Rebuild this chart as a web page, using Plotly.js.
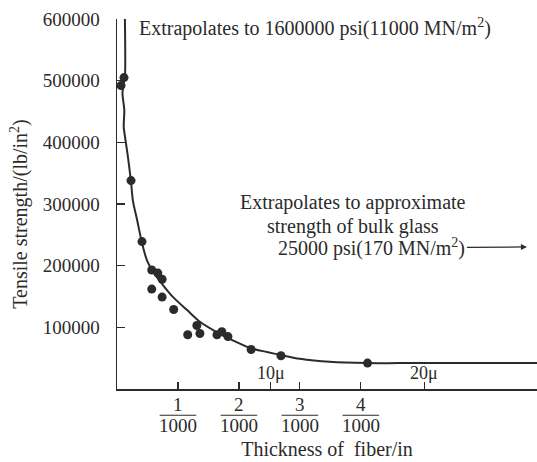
<!DOCTYPE html>
<html>
<head>
<meta charset="utf-8">
<script src="https://cdn.plot.ly/plotly-3.0.1.min.js"></script>
<style>html,body{margin:0;padding:0;background:#fff;}#chart{width:537px;height:462px;}</style>
</head>
<body>
<div id="chart"></div>
<script>
// Measured points: fiber thickness (in) vs tensile strength (lb/in^2)
var pointThickness = [0.000115, 0.000066, 0.00023, 0.00041, 0.00057, 0.00067, 0.00074, 0.00057, 0.00074, 0.00093, 0.00116, 0.00131, 0.00136, 0.00164, 0.00172, 0.00182, 0.00220, 0.00269, 0.00411];
var pointStrength  = [505000, 492000, 338000, 239000, 193000, 188000, 178000, 162000, 149000, 129000, 88000, 103000, 90000, 88000, 93000, 85000, 64000, 54000, 42000];

// Fitted curve
var curveThickness = [0.00013, 0.00013, 0.000115, 0.00009, 0.00012, 0.00011, 0.00013, 0.00018, 0.00023, 0.00026, 0.00033, 0.00041, 0.00049, 0.00059, 0.00075, 0.00092, 0.00115, 0.00136, 0.00164, 0.00190, 0.00220, 0.00246, 0.00269, 0.00300, 0.00349, 0.00411, 0.00464, 0.00689];
var curveStrength  = [600000, 505000, 498000, 480000, 452000, 425000, 410000, 376000, 336000, 306000, 274000, 237000, 209000, 190000, 169000, 149000, 128000, 109000, 92000, 79000, 66000, 60000, 55000, 49000, 44000, 42000, 42000, 42000];

var yTickVals = [100000, 200000, 300000, 400000, 500000, 600000];
var yTickText = ['100000', '200000', '300000', '400000', '500000', '600000'];
var xFracVals = [0.001, 0.002, 0.003, 0.004];
var xFracNum = ['1', '2', '3', '4'];
var xFracDen = '1000';
var micronVals = [0.00252, 0.00504];
var micronText = ['10\u03bc', '20\u03bc'];

var ink = '#2b2b2b';
var serif = '"Liberation Serif", "Times New Roman", serif';

var traces = [
  {x: curveThickness, y: curveStrength, mode: 'lines', type: 'scatter',
   line: {color: ink, width: 2, shape: 'spline', smoothing: 0.8}, hoverinfo: 'skip', showlegend: false},
  {x: pointThickness, y: pointStrength, mode: 'markers', type: 'scatter',
   marker: {color: ink, size: 9}, showlegend: false}
];

var annotations = [];
var shapes = [];
for (var i = 0; i < xFracVals.length; i++) {
  annotations.push({x: xFracVals[i], xref: 'x', y: -0.042, yref: 'paper', text: xFracNum[i], showarrow: false,
    xanchor: 'center', yanchor: 'middle', font: {family: serif, size: 19, color: ink}});
  annotations.push({x: xFracVals[i], xref: 'x', y: -0.098, yref: 'paper', text: xFracDen, showarrow: false,
    xanchor: 'center', yanchor: 'middle', font: {family: serif, size: 19, color: ink}});
  shapes.push({type: 'line', xref: 'x', yref: 'paper', x0: xFracVals[i] - 0.0003, x1: xFracVals[i] + 0.0003,
    y0: -0.071, y1: -0.071, line: {color: ink, width: 1.2}});
}
for (var j = 0; j < micronVals.length; j++) {
  annotations.push({x: micronVals[j], xref: 'x', y: 0.043, yref: 'paper', text: micronText[j], showarrow: false,
    xanchor: 'center', yanchor: 'middle', font: {family: serif, size: 18, color: ink}});
}
annotations.push({x: 0.0476, xref: 'paper', y: 0.978, yref: 'paper', xanchor: 'left', yanchor: 'middle', showarrow: false,
  text: 'Extrapolates to 1600000 psi(11000 MN/m<sup>2</sup>)', font: {family: serif, size: 20, color: ink}});
annotations.push({x: 0.563, xref: 'paper', y: 0.505, yref: 'paper', xanchor: 'center', yanchor: 'middle', showarrow: false,
  text: 'Extrapolates to approximate', font: {family: serif, size: 20, color: ink}});
annotations.push({x: 0.563, xref: 'paper', y: 0.438, yref: 'paper', xanchor: 'center', yanchor: 'middle', showarrow: false,
  text: 'strength of bulk glass', font: {family: serif, size: 20, color: ink}});
// third line with its arrow pointing right
annotations.push({x: 0.976, xref: 'paper', y: 0.384, yref: 'paper', axref: 'pixel', ayref: 'pixel',
  ax: -155, ay: 1, showarrow: true, arrowhead: 2, arrowsize: 1, arrowwidth: 1.2, arrowcolor: ink, standoff: 0,
  text: '25000 psi(170 MN/m<sup>2</sup>)', font: {family: serif, size: 20, color: ink}});

var layout = {
  width: 537, height: 462,
  margin: {l: 117, r: 0, t: 19, b: 73},
  paper_bgcolor: '#ffffff', plot_bgcolor: '#ffffff',
  font: {family: serif, color: ink},
  xaxis: {
    range: [0, 0.00689], showgrid: false, zeroline: false,
    showline: true, linecolor: ink, linewidth: 1.5,
    ticks: 'inside', ticklen: 7, tickwidth: 1.2, tickcolor: ink,
    tickvals: xFracVals.concat(micronVals), showticklabels: false,
    title: {text: 'Thickness of  fiber/in', font: {family: serif, size: 20, color: ink}, standoff: 52},
    automargin: false
  },
  yaxis: {
    range: [0, 600000], showgrid: false, zeroline: false,
    showline: true, linecolor: ink, linewidth: 1.5,
    ticks: 'inside', ticklen: 8, tickwidth: 1.2, tickcolor: ink,
    tickvals: yTickVals, ticktext: yTickText, ticklabelstandoff: 12,
    tickfont: {family: serif, size: 19, color: ink},
    title: {text: 'Tensile strength/(lb/in<sup>2</sup>)&nbsp;&nbsp;&nbsp;&nbsp;', font: {family: serif, size: 20, color: ink}, standoff: 9},
    automargin: false
  },
  annotations: annotations,
  shapes: shapes
};

Plotly.newPlot('chart', traces, layout, {displayModeBar: false, staticPlot: true});
</script>
</body>
</html>
